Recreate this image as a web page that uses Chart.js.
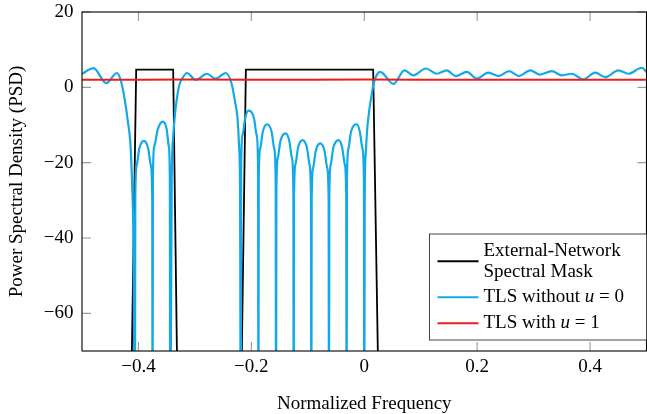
<!DOCTYPE html>
<html>
<head>
<meta charset="utf-8">
<script src="https://cdn.jsdelivr.net/npm/chart.js@4.4.1/dist/chart.umd.min.js"></script>
<style>
  html, body { margin: 0; padding: 0; background: #fff; }
  canvas { display: block; }
</style>
</head>
<body>
<canvas id="psd" width="647" height="414"></canvas>
<script>
// Данные
const xTicks = [-0.4, -0.2, 0, 0.2, 0.4];
const yTicks = [-60, -40, -20, 0, 20];

// Маска внешней сети (прямоугольники)
const maskFreq = [-0.4121, -0.4040, -0.3385, -0.3314, -0.2173, -0.2097, 0.0158, 0.0246];
const maskPsd  = [-75, 4.7, 4.7, -75, -75, 4.7, 4.7, -75];

// TLS без u = 0
const tlsFreq = [
  -0.5, -0.4796, -0.4571, -0.4382, -0.4306, -0.4247, -0.4187, -0.4141, -0.4114, -0.4085, -0.40625,
  -0.4056, -0.4031, -0.3984, -0.3903, -0.3828, -0.3781, -0.3756, -0.375,
  -0.3744, -0.3719, -0.3656, -0.3569, -0.35, -0.3463, -0.3444, -0.34375,
  -0.3411, -0.3384, -0.3349, -0.3314, -0.3278, -0.3225, -0.3142,
  -0.2983, -0.2788, -0.2632, -0.2455,
  -0.2345, -0.2287, -0.2246, -0.2216, -0.2200, -0.21875,
  -0.2181, -0.2156, -0.2109, -0.2053, -0.1953, -0.1906, -0.1881, -0.1875,
  -0.1869, -0.1844, -0.1797, -0.1722, -0.1641, -0.1594, -0.1569, -0.15625,
  -0.1556, -0.1531, -0.1484, -0.1391, -0.1328, -0.1281, -0.1256, -0.125,
  -0.1244, -0.1219, -0.1172, -0.1094, -0.1016, -0.0969, -0.0944, -0.09375,
  -0.0931, -0.0906, -0.0859, -0.0781, -0.0703, -0.0656, -0.0631, -0.0625,
  -0.0619, -0.0594, -0.0547, -0.0453, -0.0391, -0.0344, -0.0319, -0.03125,
  -0.0306, -0.0281, -0.0234, -0.0131, -0.0078, -0.0031, -0.0006, 0.0,
  0.0008, 0.0025, 0.005, 0.009, 0.013, 0.0175, 0.023, 0.0282,
  0.0517, 0.0712, 0.0871, 0.1091, 0.1286, 0.1463, 0.1622, 0.1817, 0.1994, 0.22,
  0.2377, 0.2566, 0.2744, 0.2938, 0.3115, 0.3323, 0.35, 0.3677, 0.3882, 0.409,
  0.4267, 0.4502, 0.4679, 0.4917, 0.5
];
const tlsPsd = [
  3.6, 5.1, 1.1, 3.8, 1.5, -2.9, -9.1, -15.3, -25, -45, -100,
  -29.2, -20.7, -16.2, -14.2, -16.2, -20.7, -29.2, -100,
  -24.1, -15.6, -11.1, -9.1, -11.1, -15.6, -24.1, -100,
  -25, -13, -6.5, -2.5, 0.5, 2.3, 3.8,
  2.0, 3.6, 2.3, 3.8,
  0.7, -4, -8, -16, -28, -100,
  -21.2, -12.7, -8.2, -6.2, -8.2, -12.7, -21.2, -100,
  -24.8, -16.3, -11.8, -9.8, -11.8, -16.3, -24.8, -100,
  -27.2, -18.7, -14.2, -12.2, -14.2, -18.7, -27.2, -100,
  -29, -20.5, -16, -14, -16, -20.5, -29, -100,
  -29.9, -21.4, -16.9, -14.9, -16.9, -21.4, -29.9, -100,
  -29, -20.5, -16, -14, -16, -20.5, -29, -100,
  -24.8, -16.3, -11.8, -9.8, -11.8, -16.3, -24.8, -100,
  -30, -18, -11.5, -6, -2, 1.5, 3.5, 4.1,
  0.9, 4.5, 3.2, 5.0, 3.6, 4.5, 3.0, 4.1, 2.3, 3.9,
  3.0, 4.3, 3.0, 4.5, 3.4, 4.3, 3.2, 3.6, 2.1, 3.9,
  2.7, 4.5, 3.6, 5.2, 4.1
];

// TLS с u = 1
const fixFreq = [-0.5, -0.4, -0.3, -0.2, -0.1, 0, 0.1, 0.2, 0.3, 0.4, 0.5];
const fixPsd  = [2.0, 2.0, 2.05, 2.0, 2.0, 2.05, 2.0, 2.0, 2.0, 2.0, 2.0];

const seriesNames = [
  [[{t: 'External-Network'}], [{t: 'Spectral Mask'}]],
  [[{t: 'TLS without '}, {t: 'u', i: true}, {t: ' = 0'}]],
  [[{t: 'TLS with '}, {t: 'u', i: true}, {t: ' = 1'}]]
];
const seriesColors = ['#000000', '#12a9e8', '#ee1c1c'];

const fontFamily = "'Liberation Serif', 'DejaVu Serif', serif";

const toPoints = (xs, ys) => xs.map((x, i) => ({x: x, y: ys[i]}));
const fmt = (v) => v < 0 ? '\u2212' + Math.abs(v) : String(v);

// Рамка, внутренние риски и легенда
const framePlugin = {
  id: 'framePlugin',
  beforeDatasetsDraw(chart) {
    const {ctx, chartArea: a, scales} = chart;
    const len = 9;
    ctx.save();
    ctx.strokeStyle = '#9a9a9a';
    ctx.lineWidth = 1.1;
    ctx.beginPath();
    xTicks.forEach(v => {
      const px = scales.x.getPixelForValue(v);
      ctx.moveTo(px, a.bottom); ctx.lineTo(px, a.bottom - len);
      ctx.moveTo(px, a.top); ctx.lineTo(px, a.top + len);
    });
    yTicks.forEach(v => {
      const py = scales.y.getPixelForValue(v);
      ctx.moveTo(a.left, py); ctx.lineTo(a.left + len, py);
      ctx.moveTo(a.right, py); ctx.lineTo(a.right - len, py);
    });
    ctx.stroke();
    ctx.restore();
  },
  afterDatasetsDraw(chart) {
    const {ctx, chartArea: a} = chart;
    ctx.save();
    ctx.strokeStyle = '#000';
    ctx.lineWidth = 1.1;
    ctx.strokeRect(a.left, a.top, a.right - a.left, a.bottom - a.top);

    // легенда
    const bw = 217, bh = 106;
    const bx = a.right - bw, by = a.bottom - 11 - bh;
    ctx.fillStyle = '#fff';
    ctx.fillRect(bx, by, bw, bh);
    ctx.strokeStyle = '#444';
    ctx.lineWidth = 1;
    ctx.strokeRect(bx, by, bw, bh);

    const rows = [[16.7, 37.7], [63.3], [89.3]];
    ctx.textBaseline = 'middle';
    seriesNames.forEach((lines, k) => {
      const ys = rows[k];
      const mid = (ys[0] + ys[ys.length - 1]) / 2;
      ctx.strokeStyle = seriesColors[k];
      ctx.lineWidth = 2;
      ctx.beginPath();
      ctx.moveTo(bx + 8, by + mid);
      ctx.lineTo(bx + 49, by + mid);
      ctx.stroke();
      ctx.fillStyle = '#000';
      lines.forEach((parts, j) => {
        let tx = bx + 54;
        parts.forEach(p => {
          ctx.font = (p.i ? 'italic ' : '') + '19px ' + fontFamily;
          ctx.fillText(p.t, tx, by + ys[j]);
          tx += ctx.measureText(p.t).width;
        });
      });
    });
    ctx.restore();
  }
};

let canvas = document.getElementById('psd');
let context = canvas.getContext('2d');

let config = {
  type: 'line',
  data: {
    datasets: [
      {
        label: 'TLS with u = 1',
        data: toPoints(fixFreq, fixPsd),
        borderColor: seriesColors[2],
        borderWidth: 2,
        pointRadius: 0,
        tension: 0,
        order: 0
      }, {
        label: 'TLS without u = 0',
        data: toPoints(tlsFreq, tlsPsd),
        borderColor: seriesColors[1],
        borderWidth: 2.2,
        pointRadius: 0,
        tension: 0.4,
        cubicInterpolationMode: 'monotone',
        capBezierPoints: false,
        order: 1
      }, {
        label: 'External-Network Spectral Mask',
        data: toPoints(maskFreq, maskPsd),
        borderColor: seriesColors[0],
        borderWidth: 1.8,
        pointRadius: 0,
        tension: 0,
        order: 2
      }
    ]
  },
  options: {
    responsive: false,
    animation: false,
    devicePixelRatio: 1,
    layout: { padding: { top: 12, right: 0.5, left: 0, bottom: 0 } },
    plugins: {
      legend: { display: false },
      tooltip: { enabled: false }
    },
    scales: {
      x: {
        type: 'linear',
        min: -0.5,
        max: 0.5,
        afterBuildTicks: (s) => { s.ticks = xTicks.map(v => ({value: v})); },
        afterFit: (s) => { s.height = 63; s.paddingLeft = 0; s.paddingRight = 0; },
        grid: { display: false, drawTicks: false },
        border: { display: false },
        ticks: {
          padding: 5,
          maxRotation: 0,
          color: '#000',
          font: { family: fontFamily, size: 19 },
          callback: (v) => fmt(v)
        },
        title: {
          display: true,
          text: 'Normalized Frequency',
          color: '#000',
          font: { family: fontFamily, size: 19, lineHeight: 1 },
          padding: { top: 0, bottom: 0.5 }
        }
      },
      y: {
        type: 'linear',
        min: -70,
        max: 20,
        afterBuildTicks: (s) => { s.ticks = yTicks.map(v => ({value: v})); },
        afterFit: (s) => { s.width = 82; s.paddingTop = 0; s.paddingBottom = 0; },
        grid: { display: false, drawTicks: false },
        border: { display: false },
        ticks: {
          padding: 8.5,
          color: '#000',
          font: { family: fontFamily, size: 19 },
          callback: (v) => fmt(v)
        },
        title: {
          display: true,
          text: 'Power Spectral Density (PSD)',
          color: '#000',
          font: { family: fontFamily, size: 19, lineHeight: 1 },
          padding: { top: 8, bottom: 0 }
        }
      }
    }
  },
  plugins: [framePlugin]
};

let chart = new Chart(context, config);
</script>
</body>
</html>
